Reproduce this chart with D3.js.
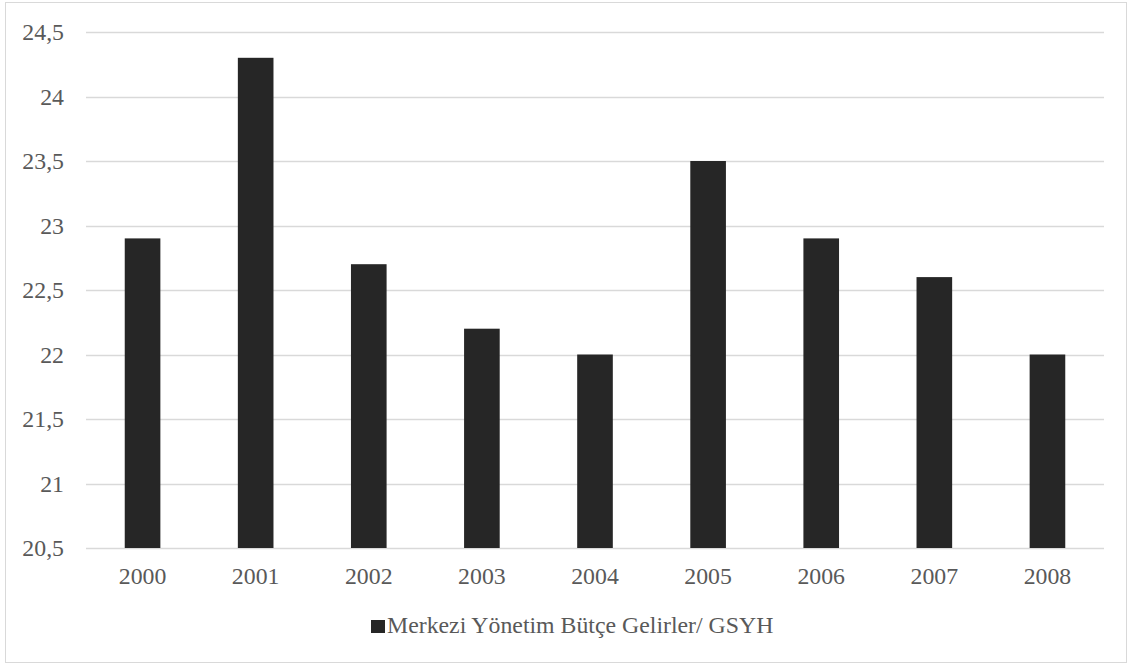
<!DOCTYPE html>
<html>
<head>
<meta charset="utf-8">
<script src="https://cdn.jsdelivr.net/npm/d3@7"></script>
<style>
  html, body { margin: 0; padding: 0; background: #fff; }
  svg { display: block; }
</style>
</head>
<body>
<script>
// Central government budget revenue as a share of GDP, by year
const years = ["2000", "2001", "2002", "2003", "2004", "2005", "2006", "2007", "2008"];
const revenueShare = [22.9, 24.3, 22.7, 22.2, 22.0, 23.5, 22.9, 22.6, 22.0];
const yTicks = [20.5, 21, 21.5, 22, 22.5, 23, 23.5, 24, 24.5];
const seriesName = "Merkezi Yönetim Bütçe Gelirler/ GSYH";

const W = 1129, H = 664;
const plot = { left: 86, right: 1104, top: 32, bottom: 548 };
const FONT = '"Liberation Serif"';
const TEXT_COLOR = "#595959";
const FONT_SIZE = "23.8px";

const svg = d3.select("body").append("svg")
  .attr("width", W).attr("height", H);

// outer chart frame
svg.append("rect")
  .attr("x", 5.5).attr("y", 2.5)
  .attr("width", 1121).attr("height", 660)
  .attr("fill", "#fff").attr("stroke", "#d9d9d9").attr("stroke-width", 1);

const x = d3.scaleBand()
  .domain(years)
  .range([plot.left, plot.right])
  .paddingInner(0.685).paddingOuter(0.3425);

const y = d3.scaleLinear()
  .domain([20.5, 24.5])
  .range([plot.bottom, plot.top]);

// horizontal gridlines
svg.append("g")
  .selectAll("line")
  .data(yTicks)
  .join("line")
  .attr("x1", plot.left).attr("x2", plot.right)
  .attr("y1", d => Math.round(y(d)) + 0.5)
  .attr("y2", d => Math.round(y(d)) + 0.5)
  .attr("stroke", "#d9d9d9").attr("stroke-width", 1.3);

function styleText(sel) {
  return sel.style("font-family", FONT)
    .style("font-size", FONT_SIZE)
    .style("fill", TEXT_COLOR);
}

// y-axis labels (comma decimal separator)
const fmt = d => String(d).replace(".", ",");
svg.append("g")
  .selectAll("text")
  .data(yTicks)
  .join("text")
  .call(styleText)
  .attr("x", 64)
  .attr("y", d => y(d))
  .attr("dy", "0.34em")
  .attr("text-anchor", "end")
  .text(fmt);

// bars
svg.append("g")
  .selectAll("rect")
  .data(years.map((yr, i) => ({ yr, v: revenueShare[i] })))
  .join("rect")
  .attr("x", d => x(d.yr))
  .attr("width", x.bandwidth())
  .attr("y", d => y(d.v))
  .attr("height", d => y(20.5) - y(d.v))
  .attr("fill", "#262626");

// x-axis labels
svg.append("g")
  .selectAll("text")
  .data(years)
  .join("text")
  .call(styleText)
  .attr("x", d => x(d) + x.bandwidth() / 2)
  .attr("y", 584)
  .attr("text-anchor", "middle")
  .text(d => d);

// legend
const legend = svg.append("g");
legend.append("rect")
  .attr("x", 371).attr("y", 620)
  .attr("width", 14).attr("height", 13)
  .attr("fill", "#262626");
legend.append("text")
  .call(styleText)
  .attr("x", 387)
  .attr("y", 633)
  .text(seriesName);
</script>
</body>
</html>
